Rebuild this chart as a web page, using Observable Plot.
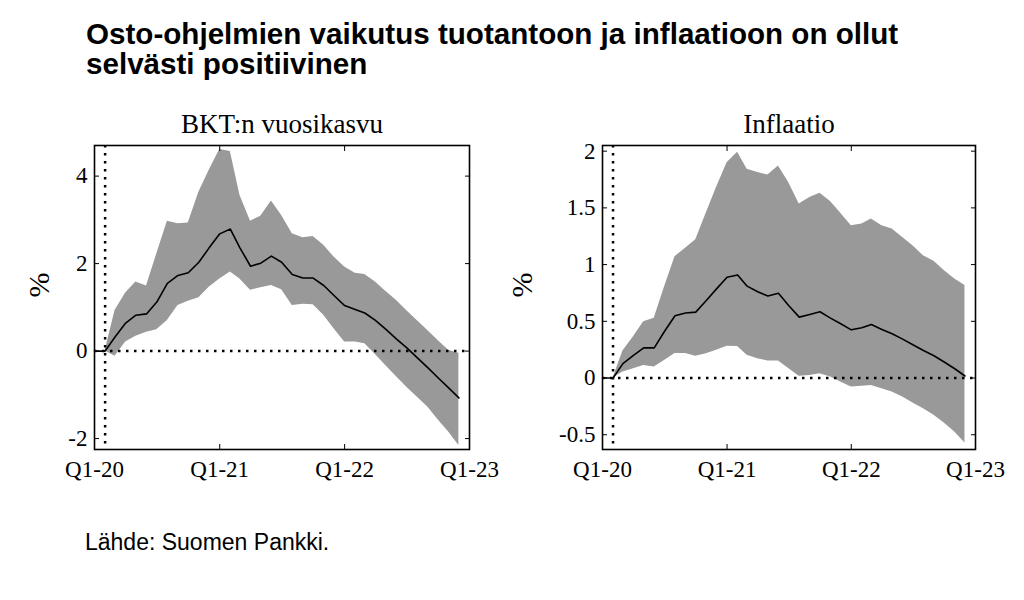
<!DOCTYPE html>
<html>
<head>
<meta charset="utf-8">
<script src="https://cdn.jsdelivr.net/npm/d3@7"></script>
<script src="https://cdn.jsdelivr.net/npm/@observablehq/plot@0.6"></script>
<style>
  html, body { margin: 0; padding: 0; background: #fff; }
  #wrap { position: relative; width: 1024px; height: 600px; overflow: hidden; }
  #title { position: absolute; left: 86px; top: 19px; font: bold 29.6px "Liberation Sans", Arial, sans-serif; line-height: 30px; color: #000; }
  #source { position: absolute; left: 85px; top: 531px; font: 23px "Liberation Sans", Arial, sans-serif; line-height: 23px; color: #000; }
  .panel { position: absolute; top: 100px; }
</style>
</head>
<body>
<div id="wrap">
  <div id="title">Osto-ohjelmien vaikutus tuotantoon ja inflaatioon on ollut<br>selvästi positiivinen</div>
  <div id="left" class="panel" style="left:0px"></div>
  <div id="right" class="panel" style="left:500px"></div>
  <div id="source">Lähde: Suomen Pankki.</div>
</div>
<script>
// Monthly observations, Jan 2020 – Dec 2022
const months = ["2020-01","2020-02","2020-03","2020-04","2020-05","2020-06","2020-07","2020-08","2020-09","2020-10","2020-11","2020-12",
                "2021-01","2021-02","2021-03","2021-04","2021-05","2021-06","2021-07","2021-08","2021-09","2021-10","2021-11","2021-12",
                "2022-01","2022-02","2022-03","2022-04","2022-05","2022-06","2022-07","2022-08","2022-09","2022-10","2022-11","2022-12"];

// BKT:n vuosikasvu (%)
const bktMean = [0, 0, 0.32, 0.64, 0.82, 0.85, 1.12, 1.55, 1.73, 1.79, 2.03, 2.36, 2.68, 2.79, 2.36, 1.94, 2.01, 2.17, 2.03, 1.75, 1.67, 1.67, 1.50, 1.27, 1.04, 0.95, 0.87, 0.70, 0.50, 0.28, 0.08, -0.15, -0.38, -0.61, -0.84, -1.07];
const bktHi   = [0, 0, 0.93, 1.33, 1.58, 1.49, 2.22, 2.97, 2.91, 2.93, 3.63, 4.13, 4.61, 4.56, 3.56, 2.97, 3.08, 3.43, 3.10, 2.68, 2.59, 2.62, 2.42, 2.15, 1.92, 1.78, 1.75, 1.58, 1.37, 1.16, 0.93, 0.70, 0.47, 0.24, 0.02, -0.05];
const bktLo   = [0, 0, -0.12, 0.21, 0.34, 0.43, 0.49, 0.70, 1.04, 1.14, 1.22, 1.46, 1.65, 1.81, 1.65, 1.39, 1.45, 1.50, 1.40, 1.04, 1.07, 1.06, 0.82, 0.51, 0.21, 0.21, 0.17, -0.08, -0.33, -0.58, -0.82, -1.05, -1.28, -1.57, -1.85, -2.16];

// Inflaatio (%)
const infMean = [0, 0, 0.127, 0.20, 0.266, 0.266, 0.41, 0.549, 0.573, 0.581, 0.683, 0.786, 0.888, 0.909, 0.81, 0.761, 0.723, 0.747, 0.639, 0.537, 0.560, 0.584, 0.528, 0.478, 0.425, 0.443, 0.472, 0.428, 0.390, 0.343, 0.293, 0.243, 0.196, 0.141, 0.082, 0.018];
const infHi   = [0, 0, 0.239, 0.363, 0.496, 0.526, 0.80, 1.07, 1.145, 1.219, 1.455, 1.68, 1.897, 1.99, 1.84, 1.812, 1.79, 1.87, 1.724, 1.534, 1.592, 1.628, 1.557, 1.452, 1.343, 1.358, 1.402, 1.343, 1.314, 1.240, 1.167, 1.079, 1.029, 0.947, 0.874, 0.815];
const infLo   = [0, 0, 0.053, 0.082, 0.111, 0.097, 0.155, 0.216, 0.216, 0.192, 0.214, 0.245, 0.28, 0.277, 0.20, 0.17, 0.15, 0.15, 0.085, 0.015, 0.023, 0.038, 0.009, -0.035, -0.079, -0.073, -0.065, -0.094, -0.123, -0.167, -0.22, -0.27, -0.328, -0.396, -0.475, -0.572];

const panelTitles = ["BKT:n vuosikasvu", "Inflaatio"];
const yLabel = "%";
const xTickDates = ["2020-01-01", "2021-01-01", "2022-01-01", "2023-01-01"].map(d => new Date(d));
const xTickLabels = ["Q1-20", "Q1-21", "Q1-22", "Q1-23"];
const xDomain = [new Date("2020-01-01"), new Date("2023-01-01")];
const shockDate = new Date("2020-02-01");
const bktTicks = [-2, 0, 2, 4];
const infTicks = [-0.5, 0, 0.5, 1, 1.5, 2];
const bktDomain = [-2.25, 4.7];
const infDomain = [-0.63, 2.05];

function rows(mean, lo, hi) {
  return months.map((m, i) => ({date: new Date(m + "-01"), mean: mean[i], lo: lo[i], hi: hi[i]}));
}
const fmtX = d => xTickLabels[xTickDates.findIndex(t => +t === +d)];

function panel({data, title, yTicks, yDomain, marginLeft, marginRight, labelDx}) {
  return Plot.plot({
    width: 500,
    height: 400,
    marginLeft, marginRight,
    marginTop: 45,
    marginBottom: 51,
    style: {fontFamily: "'Liberation Serif', 'Times New Roman', serif", fontSize: "23px", background: "white", color: "black", overflow: "visible"},
    x: {type: "utc", domain: xDomain, axis: null},
    y: {domain: yDomain, axis: null},
    marks: [
      Plot.areaY(data, {x: "date", y1: "lo", y2: "hi", fill: "#999999", curve: "linear"}),
      Plot.ruleY([0], {stroke: "black", strokeWidth: 2.5, strokeDasharray: "2.5,5.5"}),
      Plot.ruleX([shockDate], {stroke: "black", strokeWidth: 2.5, strokeDasharray: "2.5,5.5"}),
      Plot.lineY(data, {x: "date", y: "mean", stroke: "black", strokeWidth: 1.6}),
      Plot.axisY({anchor: "left", ticks: yTicks, tickSize: -5, tickPadding: 12, tickFormat: d => String(d), label: null, fontSize: 23}),
      Plot.axisY({anchor: "right", ticks: yTicks, tickSize: -5, tickFormat: () => "", label: null}),
      Plot.axisX({anchor: "bottom", ticks: xTickDates, tickSize: -5, tickPadding: 16, tickFormat: fmtX, label: null, fontSize: 23}),
      Plot.axisX({anchor: "top", ticks: xTickDates, tickSize: -5, tickFormat: () => "", label: null}),
      Plot.frame({stroke: "black", strokeWidth: 1.6}),
      Plot.text([title], {frameAnchor: "top", dy: -13, lineAnchor: "bottom", fontSize: 27}),
      Plot.text([yLabel], {frameAnchor: "left", dx: labelDx, rotate: -90, fontSize: 30})
    ]
  });
}

document.getElementById("left").append(panel({
  data: rows(bktMean, bktLo, bktHi), title: panelTitles[0], yTicks: bktTicks, yDomain: bktDomain,
  marginLeft: 94, marginRight: 31, labelDx: -55
}));
document.getElementById("right").append(panel({
  data: rows(infMean, infLo, infHi), title: panelTitles[1], yTicks: infTicks, yDomain: infDomain,
  marginLeft: 102, marginRight: 25, labelDx: -80
}));
</script>
</body>
</html>
